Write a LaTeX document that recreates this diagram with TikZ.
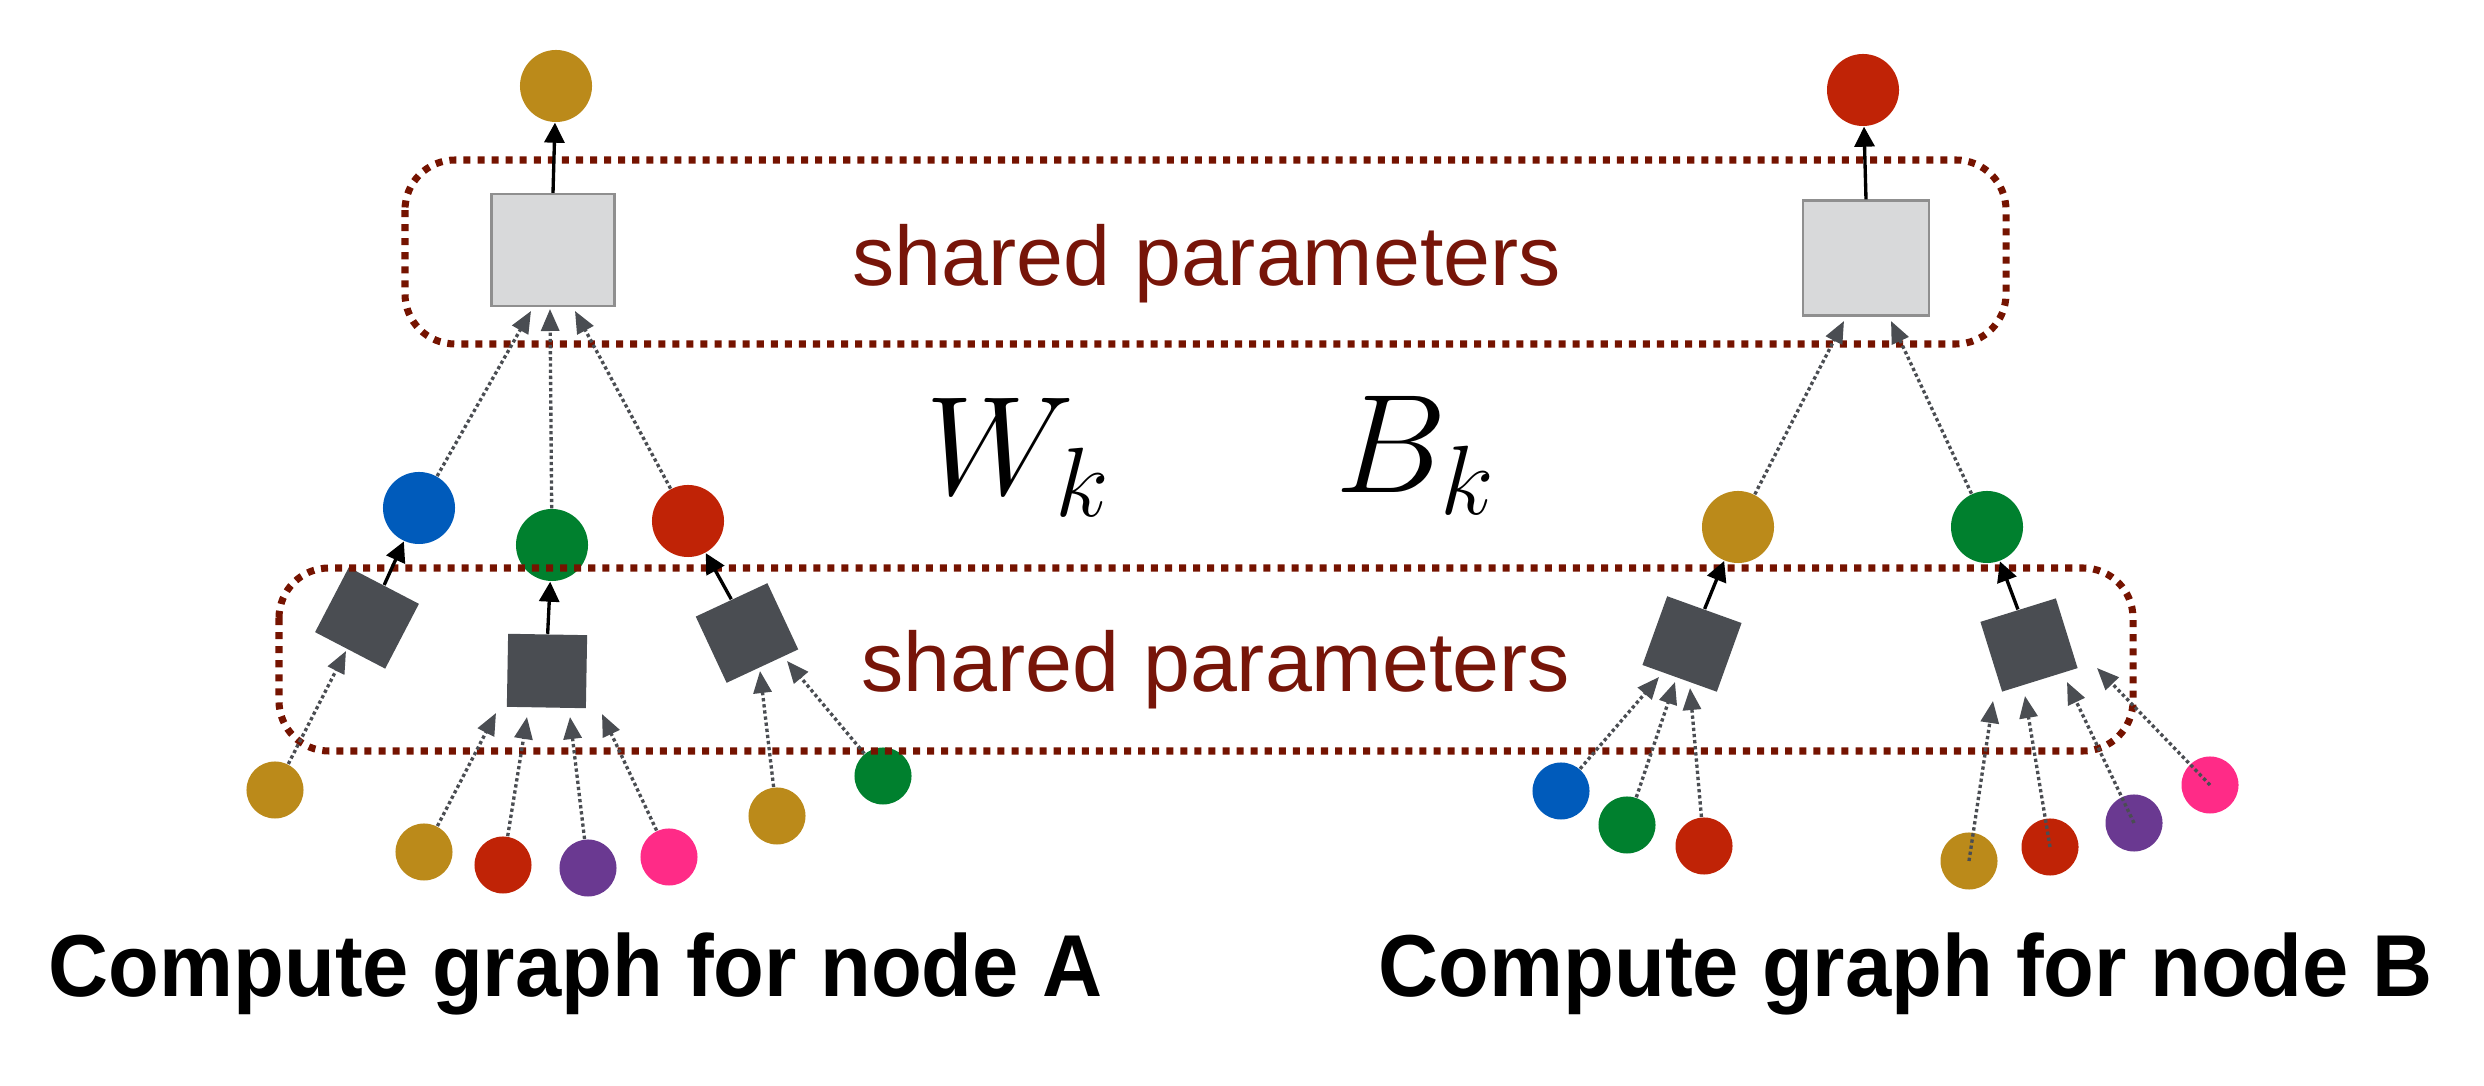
\RequirePackage{fix-cm}
\documentclass[tikz,border=0pt]{standalone}
\usepackage{fontspec}
\usepackage{graphicx}
\setmainfont{Liberation Sans}
\usetikzlibrary{arrows.meta}
\definecolor{cgold}{HTML}{BB8A1A}
\definecolor{cred}{HTML}{C02306}
\definecolor{cblue}{HTML}{005BBB}
\definecolor{cgreen}{HTML}{00802E}
\definecolor{cpurple}{HTML}{6A3991}
\definecolor{cpink}{HTML}{FF2B87}
\definecolor{cdark}{HTML}{4A4D52}
\definecolor{clight}{HTML}{D8D9DA}
\definecolor{cborder}{HTML}{8F8F8F}
\definecolor{cframe}{HTML}{751300}
\definecolor{ctext}{HTML}{771509}
\begin{document}
\begin{tikzpicture}[x=0.01cm,y=-0.01cm,
  big/.style={circle,minimum size=0.72cm,inner sep=0pt,fill=#1},
  small/.style={circle,minimum size=0.57cm,inner sep=0pt,fill=#1},
  lbox/.style={draw=cborder,fill=clight,line width=0.6pt,minimum width=1.23cm,minimum height=1.12cm,inner sep=0pt},
  dbox/.style={fill=cdark,minimum width=0.79cm,minimum height=0.73cm,inner sep=0pt},
  frame/.style={draw=cframe,line width=2pt,dash pattern=on 2pt off 2pt,rounded corners=0.5cm},
  outarr/.style={draw=black,line width=0.95pt,-{Triangle[length=0.2cm,width=0.2cm]}},
  inarr/.style={draw=cdark,line width=0.95pt,dash pattern=on 0.95pt off 0.8pt,-{Triangle[length=0.22cm,width=0.18cm]}},
  shared/.style={text=ctext,inner sep=0pt,anchor=base west,font=\fontsize{24}{28}\selectfont},
  title/.style={inner sep=0pt,anchor=base west,font=\bfseries\fontsize{25}{30}\selectfont},
  mathlbl/.style={inner sep=0pt,anchor=base west,font=\fontsize{40}{48}\selectfont}
]
\useasboundingbox (0,0) rectangle (2484,1086);

% ---------- graph A ----------
\node[big=cgold] (Atop) at (556,86) {};
\node[lbox] (Abox) at (553,250) {};
\node[big=cblue] (Ab) at (419,508) {};
\node[big=cgreen] (Ag) at (552,545) {};
\node[big=cred] (Ar) at (688,521) {};
\node[dbox,rotate=-27.5] (A1) at (367,618) {};
\node[dbox,rotate=-1] (A2) at (547,671) {};
\node[dbox,rotate=25] (A3) at (747,633) {};
\node[small=cgold] (a1) at (275,790) {};
\node[small=cgold] (a2) at (424,852) {};
\node[small=cred] (a3) at (503,865) {};
\node[small=cpurple] (a4) at (588,868) {};
\node[small=cpink] (a5) at (669,857) {};
\node[small=cgold] (a6) at (777,816) {};
\node[small=cgreen] (a7) at (883,776) {};

% ---------- graph B ----------
\node[big=cred] (Btop) at (1863,90) {};
\node[lbox,minimum width=1.26cm,minimum height=1.15cm] (Bbox) at (1866,258) {};
\node[big=cgold] (Bo) at (1738,527) {};
\node[big=cgreen] (Bg) at (1987,527) {};
\node[dbox,rotate=-19.8] (B1) at (1692,644) {};
\node[dbox,rotate=17.3] (B2) at (2029,645) {};
\node[small=cblue] (b1) at (1561,791) {};
\node[small=cgreen] (b2) at (1627,825) {};
\node[small=cred] (b3) at (1704,846) {};
\node[small=cgold] (b4) at (1969,861) {};
\node[small=cred] (b5) at (2050,847) {};
\node[small=cpurple] (b6) at (2134,823) {};
\node[small=cpink] (b7) at (2210,785) {};

% ---------- shared-parameter frames ----------
\draw[frame] (405,160) rectangle (2006,344);
\draw[frame] (279,568) rectangle (2133,751);
\node[shared] (sp1) at (852,286) {shared parameters};
\node[shared] (sp2) at (861,692) {shared parameters};

% ---------- arrow tip coordinates ----------
\coordinate (tA1) at (531,311);
\coordinate (tA2) at (550,309);
\coordinate (tA3) at (575,311);
\coordinate (tB1) at (1844,321);
\coordinate (tB2) at (1891,321);
\coordinate (ta1) at (346,651);
\coordinate (ta2) at (496,713);
\coordinate (ta3) at (527,717);
\coordinate (ta4) at (570,717);
\coordinate (ta5) at (602,714);
\coordinate (ta6) at (760,671);
\coordinate (ta7) at (787,661);
\coordinate (tb1) at (1659,677);
\coordinate (tb2) at (1675,682);
\coordinate (tb3) at (1690,688);
\coordinate (tb4) at (1993,701);
\coordinate (tb5) at (2025,696);
\coordinate (tb6) at (2067,682);
\coordinate (tb7) at (2097,668);

% ---------- solid output arrows ----------
\draw[outarr] (Abox.north) -- (Atop);
\draw[outarr] (Bbox.north) -- (Btop);
\draw[outarr] (A1.north) -- (Ab);
\draw[outarr] (A2.north) -- (Ag);
\draw[outarr] (A3.north) -- (Ar);
\draw[outarr] (B1.north) -- (Bo);
\draw[outarr] (B2.north) -- (Bg);

% ---------- dotted input arrows ----------
\draw[inarr] (Ab) -- (tA1);
\draw[inarr] (Ag) -- (tA2);
\draw[inarr] (Ar) -- (tA3);
\draw[inarr] (Bo) -- (tB1);
\draw[inarr] (Bg) -- (tB2);
\draw[inarr] (a1) -- (ta1);
\draw[inarr] (a2) -- (ta2);
\draw[inarr] (a3) -- (ta3);
\draw[inarr] (a4) -- (ta4);
\draw[inarr] (a5) -- (ta5);
\draw[inarr] (a6) -- (ta6);
\draw[inarr] (a7) -- (ta7);
\draw[inarr] (b1) -- (tb1);
\draw[inarr] (b2) -- (tb2);
\draw[inarr] (b3) -- (tb3);
\draw[inarr] (b4.center) -- (tb4);
\draw[inarr] (b5.center) -- (tb5);
\draw[inarr] (b6.center) -- (tb6);
\draw[inarr] (b7.center) -- (tb7);

% ---------- labels ----------
\node[mathlbl] (W) at (925,495) {$W_k$};
\node[mathlbl] (B) at (1335,493) {$B_k$};
\node[title] (tA) at (48,997) {\scalebox{0.946}[1]{Compute graph for node A}};
\node[title] (tB) at (1378,997) {\scalebox{0.946}[1]{Compute graph for node B}};
\end{tikzpicture}
\end{document}
